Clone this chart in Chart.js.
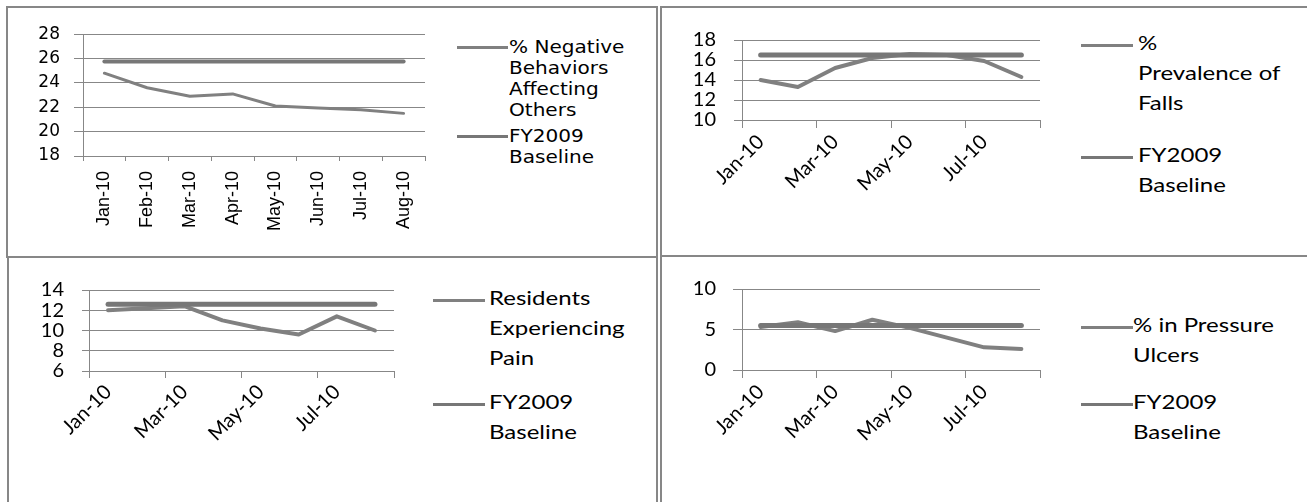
<!DOCTYPE html>
<html><head><meta charset="utf-8">
<script src="https://cdn.jsdelivr.net/npm/chart.js@4.4.1/dist/chart.umd.min.js"></script>
<style>
html,body{margin:0;padding:0;background:#fff;width:1307px;height:502px;overflow:hidden;position:relative}
.box{position:absolute;box-sizing:border-box;border:2px solid #878787}
canvas{position:absolute}
.tx{position:absolute;color:#000;white-space:nowrap;transform-origin:0 50%}
.sw{position:absolute}
</style></head><body>
<div class="box" style="left:6px;top:6px;width:652px;height:252px"></div>
<div class="box" style="left:660px;top:6px;width:660px;height:251px;border-right:none"></div>
<div class="box" style="left:7px;top:256px;width:651px;height:260px;border-bottom:none"></div>
<div class="box" style="left:660px;top:255px;width:660px;height:260px;border-bottom:none;border-right:none"></div>
<canvas id="c1" width="430" height="240" style="left:10px;top:10px"></canvas>
<canvas id="c2" width="410" height="240" style="left:665px;top:10px"></canvas>
<canvas id="c3" width="410" height="240" style="left:10px;top:260px"></canvas>
<canvas id="c4" width="410" height="240" style="left:665px;top:260px"></canvas>
<script>
// ---- data ----
const months = ['Jan-10','Feb-10','Mar-10','Apr-10','May-10','Jun-10','Jul-10','Aug-10'];

const behaviors = [24.8, 23.6, 22.9, 23.1, 22.1, 21.95, 21.8, 21.5];
const behaviorsBaseline = [25.75, 25.75, 25.75, 25.75, 25.75, 25.75, 25.75, 25.75];
const behaviorsTicks = [18, 20, 22, 24, 26, 28];
const behaviorsLegend = ['% Negative', 'Behaviors', 'Affecting', 'Others'];

const falls = [14.0, 13.3, 15.2, 16.2, 16.6, 16.5, 15.9, 14.3];
const fallsBaseline = [16.5, 16.5, 16.5, 16.5, 16.5, 16.5, 16.5, 16.5];
const fallsTicks = [10, 12, 14, 16, 18];
const fallsLegend = ['%', 'Prevalence of', 'Falls'];

const pain = [12.0, 12.2, 12.4, 11.0, 10.2, 9.6, 11.4, 10.0];
const painBaseline = [12.6, 12.6, 12.6, 12.6, 12.6, 12.6, 12.6, 12.6];
const painTicks = [6, 8, 10, 12, 14];
const painLegend = ['Residents', 'Experiencing', 'Pain'];

const ulcers = [5.3, 5.9, 4.8, 6.2, 5.2, 4.0, 2.8, 2.6];
const ulcersBaseline = [5.5, 5.5, 5.5, 5.5, 5.5, 5.5, 5.5, 5.5];
const ulcersTicks = [0, 5, 10];
const ulcersLegend = ['% in Pressure', 'Ulcers'];

const baselineLegend = ['FY2009', 'Baseline'];

// ---- rendering ----
const GRID = '#878787';
const SERIES = '#808080';
const BASE = '#777777';

function makeChart(id, series, base, yTicks, legendLines, o) {
  const chart = new Chart(document.getElementById(id), {
    type: 'line',
    data: {
      labels: months,
      datasets: [
        { label: legendLines.join(' '), legendLines: legendLines, data: series,
          borderColor: SERIES, borderWidth: o.sw, pointRadius: 0, tension: 0, order: 1,
          borderCapStyle: 'round', borderJoinStyle: 'round' },
        { label: baselineLegend.join(' '), legendLines: baselineLegend, data: base,
          borderColor: BASE, borderWidth: o.bw, pointRadius: 0, tension: 0, order: 0,
          borderCapStyle: 'round' }
      ]
    },
    options: {
      responsive: false, animation: false,
      layout: { padding: { top: o.padTop, right: o.padRight, left: 0, bottom: 0 } },
      plugins: { legend: { display: false }, tooltip: { enabled: false } },
      scales: {
        x: {
          type: 'category', offset: true,
          grid: {
            offset: true, drawOnChartArea: false, tickLength: o.xTickLen, lineWidth: 1,
            color: GRID,
            tickColor: c => (o.every2 && c.type === 'tick' && c.index % 2 === 1) ? 'rgba(0,0,0,0)' : GRID
          },
          border: { color: GRID, width: 1 },
          ticks: {
            autoSkip: false, minRotation: o.rot, maxRotation: o.rot, padding: o.xPad,
            color: '#000', font: o.xFont,
            callback: function (v, i) { return (!o.every2 || i % 2 === 0) ? this.getLabelForValue(v) : ''; }
          },
          afterFit: s => { s.height = o.xH; }
        },
        y: {
          min: yTicks[0], max: yTicks[yTicks.length - 1],
          ticks: { stepSize: yTicks[1] - yTicks[0], autoSkip: false, color: '#000', font: o.yFont, padding: o.yPad },
          grid: { color: GRID, lineWidth: 1, tickLength: o.yTickLen },
          border: { color: GRID, width: 1 },
          afterFit: s => { s.width = o.yW; }
        }
      }
    }
  });
  // HTML legend from the chart's datasets
  const lg = o.legend;
  chart.data.datasets.forEach((ds, i) => {
    ds.legendLines.forEach((t, j) => {
      const d = document.createElement('div');
      d.className = 'tx';
      d.textContent = t;
      d.style.left = lg.textX + 'px';
      d.style.top = (lg.centers[i] + j * lg.lh - lg.lh / 2) + 'px';
      d.style.height = lg.lh + 'px';
      d.style.lineHeight = lg.lh + 'px';
      d.style.font = lg.font;
      d.style.transform = 'scaleX(' + lg.sx + ')';
      document.body.appendChild(d);
    });
    const sw = document.createElement('div');
    sw.className = 'sw';
    sw.style.left = lg.swX + 'px';
    sw.style.width = lg.swW + 'px';
    sw.style.top = (lg.centers[i] - 1.5) + 'px';
    sw.style.height = '3.5px';
    sw.style.background = ds.borderColor;
    document.body.appendChild(sw);
  });
  return chart;
}

makeChart('c1', behaviors, behaviorsBaseline, behaviorsTicks, behaviorsLegend, {
  sw: 3, bw: 4, padTop: 19, padRight: 15, xH: 94, yW: 73,
  xTickLen: 5, xPad: 10, rot: 90, every2: false,
  xFont: { family: 'Liberation Sans', size: 18 },
  yFont: { family: 'DejaVu Sans', size: 17 }, yPad: 14, yTickLen: 9,
  legend: { swX: 457, swW: 51, textX: 509, centers: [47, 136], lh: 21, font: '17px "DejaVu Sans"', sx: 1.18 }
});
makeChart('c2', falls, fallsBaseline, fallsTicks, fallsLegend, {
  sw: 4, bw: 5, padTop: 28, padRight: 35, xH: 130, yW: 77,
  xTickLen: 8, xPad: 2, rot: 45, every2: true,
  xFont: { family: 'Lato', size: 20 },
  yFont: { family: 'Lato', size: 20 }, yPad: 18, yTickLen: 8,
  legend: { swX: 1081, swW: 52, textX: 1138, centers: [45, 157], lh: 30, font: '20px Lato', sx: 1.2 }
});
makeChart('c3', pain, painBaseline, painTicks, painLegend, {
  sw: 4, bw: 5, padTop: 28, padRight: 26, xH: 129, yW: 79,
  xTickLen: 7, xPad: 2, rot: 45, every2: true,
  xFont: { family: 'Lato', size: 20 },
  yFont: { family: 'Lato', size: 20 }, yPad: 18, yTickLen: 7,
  legend: { swX: 433, swW: 52, textX: 489, centers: [300, 404], lh: 30, font: '20px Lato', sx: 1.2 }
});
makeChart('c4', ulcers, ulcersBaseline, ulcersTicks, ulcersLegend, {
  sw: 4, bw: 5, padTop: 27, padRight: 35, xH: 130, yW: 77,
  xTickLen: 8, xPad: 2, rot: 45, every2: true,
  xFont: { family: 'Lato', size: 20 },
  yFont: { family: 'Lato', size: 20 }, yPad: 17, yTickLen: 9,
  legend: { swX: 1081, swW: 52, textX: 1133, centers: [327, 404], lh: 30, font: '20px Lato', sx: 1.2 }
});
</script>
</body></html>
